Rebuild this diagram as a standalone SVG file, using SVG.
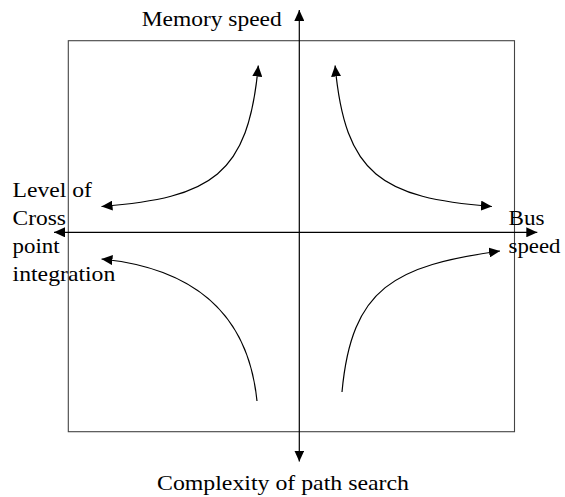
<svg xmlns="http://www.w3.org/2000/svg" width="565" height="497" viewBox="0 0 565 497">
<style>
text{font-family:"Liberation Serif","Times New Roman",serif;font-size:21.5px;fill:#000}
.ln{fill:none;stroke:#000;stroke-width:1.2}
.frame{fill:none;stroke:#444;stroke-width:1.1}
</style>
<defs>
<marker id="ah" markerUnits="userSpaceOnUse" markerWidth="11" markerHeight="10" refX="11" refY="5" orient="auto-start-reverse" viewBox="0 0 11 10">
<path d="M0,0 L11,5 L0,10 z" fill="#000"/>
</marker>
</defs>
<g id="frame"><rect class="frame" x="68.3" y="40.7" width="446.2" height="391"/></g>
<g id="connectors">
<line class="ln" x1="299.3" y1="10" x2="299.3" y2="461.5" marker-start="url(#ah)" marker-end="url(#ah)"/>
<line class="ln" x1="54" y1="232.3" x2="537.3" y2="232.3" marker-start="url(#ah)" marker-end="url(#ah)"/>
<path class="ln" d="M101.5 206.5 C211.5 197.7 248.4 175.5 258.3 65.5" marker-start="url(#ah)" marker-end="url(#ah)"/>
<path class="ln" d="M335.1 65.5 C345 175.5 381.9 197.7 491.9 206.5" marker-start="url(#ah)" marker-end="url(#ah)"/>
<path class="ln" d="M257 401 C248 311 191.5 268 101.5 259" marker-end="url(#ah)"/>
<path class="ln" d="M342 392 C351.5 287 395 265.7 500 251" marker-end="url(#ah)"/>
</g>
<g id="label-memory"><text x="141.7" y="25.5" textLength="140" lengthAdjust="spacingAndGlyphs">Memory speed</text></g>
<g id="label-complexity"><text x="157" y="490" textLength="252" lengthAdjust="spacingAndGlyphs">Complexity of path search</text></g>
<g id="label-level">
<text x="12.6" y="197" textLength="79.3" lengthAdjust="spacingAndGlyphs">Level of</text>
<text x="12.6" y="225" textLength="53.4" lengthAdjust="spacingAndGlyphs">Cross</text>
<text x="12.6" y="253" textLength="47" lengthAdjust="spacingAndGlyphs">point</text>
<text x="12.6" y="281" textLength="102.7" lengthAdjust="spacingAndGlyphs">integration</text>
</g>
<g id="label-bus">
<text x="508.5" y="225" textLength="36" lengthAdjust="spacingAndGlyphs">Bus</text>
<text x="508.5" y="253" textLength="52" lengthAdjust="spacingAndGlyphs">speed</text>
</g>
</svg>
